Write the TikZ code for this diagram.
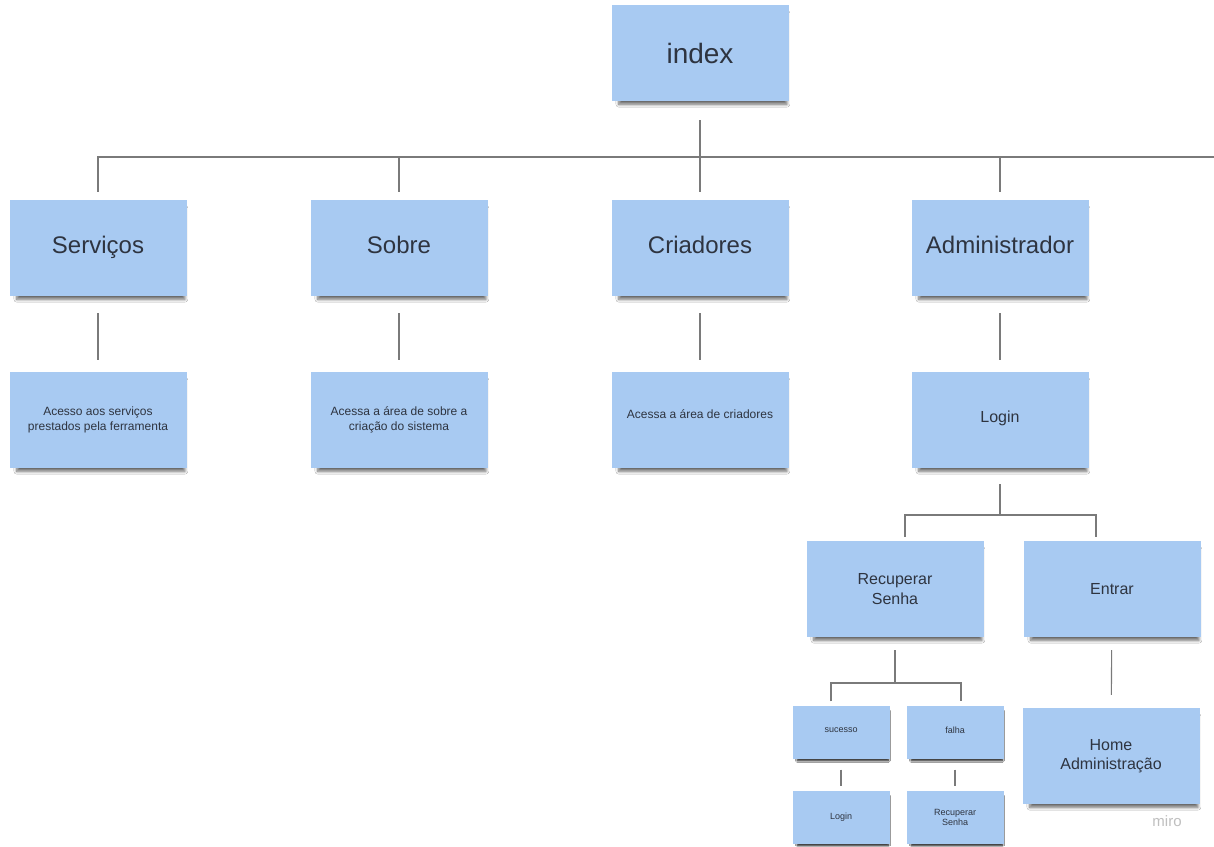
\documentclass[tikz,border=0pt]{standalone}
\usepackage{fontspec}
\setmainfont{Liberation Sans}
\usetikzlibrary{positioning,shadows,shadows.blur}

\definecolor{noteblue}{HTML}{A8CAF2}
\definecolor{notetext}{HTML}{2E3440}
\definecolor{linegray}{HTML}{7A7A7A}

\begin{document}
\begin{tikzpicture}[
    x=1pt, y=-1pt,
    note/.style={rectangle, fill=noteblue, text=notetext, align=center, inner sep=2pt,
      minimum width=177pt, minimum height=96pt,
      blur shadow={shadow xshift=3pt, shadow yshift=-6pt, shadow scale=0.95, shadow opacity=60, shadow blur steps=8, shadow blur radius=3pt}},
    % text sizes for the three kinds of notes
    bigtxt/.style={font=\fontsize{24}{28}\selectfont, text height=18pt, text depth=8pt},
    midtxt/.style={font=\fontsize{16}{20}\selectfont},
    lowtxt/.style={font=\fontsize{12}{15}\selectfont},
    small/.style={note, minimum width=97pt, minimum height=53pt, font=\fontsize{9}{10}\selectfont,
      blur shadow={shadow xshift=2pt, shadow yshift=-4pt, shadow scale=0.94, shadow opacity=60, shadow blur steps=6, shadow blur radius=2pt}},
    conn/.style={draw=linegray, line width=1.1pt}
  ]
    \fill[white] (0,0) rectangle (1214,846);
    \useasboundingbox (0,0) rectangle (1214,846);

    %--- Root
    \node[note, font=\fontsize{28}{32}\selectfont] (index) at (700,53) {index};

    %--- Row 1 (pages)
    \node[note, bigtxt] (srv)   at (98,248)   {Serviços};
    \node[note, bigtxt] (sobre) at (399,248)  {Sobre};
    \node[note, bigtxt] (criad) at (700,248)  {Criadores};
    \node[note, bigtxt] (admin) at (1000,248) {Administrador};

    %--- Row 2 (descriptions)
    \node[note, lowtxt] (srvD)   at (98,420)  {Acesso aos serviços\\prestados pela ferramenta};
    \node[note, lowtxt] (sobreD) at (399,420) {Acessa a área de sobre a\\criação do sistema};
    \node[note, lowtxt] (criadD) at (700,420) {Acessa a área de criadores\\[-4pt]};
    \node[note, midtxt] (login)  at (1000,420) {Login\\[-14pt]};

    %--- Login branch
    \node[note, midtxt] (rec)    at (895,589)  {Recuperar\\Senha};
    \node[note, midtxt] (entrar) at (1112,589) {Entrar};
    \node[note, midtxt, font=\fontsize{16}{19}\selectfont] (home) at (1111,756) {Home\\Administração};

    \node[small] (sucesso) at (841,732) {sucesso\\[-6pt]};
    \node[small] (falha)   at (955,732) {falha\\[-6pt]};
    \node[small] (loginB)  at (841,817) {Login};
    \node[small] (recB)    at (955,817) {Recuperar\\Senha};

    %--- Edges: root bus
    \coordinate (bus)  at (700,157);
    \coordinate (busL) at (97,157);
    \coordinate (busR) at (1214,157);
    \draw[conn] ([yshift=-19pt]index.south) -- (bus);
    \draw[conn] (busL) -- (busR);
    \foreach \n in {srv,sobre,criad,admin}
      \draw[conn] (\n.north |- bus) -- ([yshift=8pt]\n.north);

    %--- Edges: page -> description
    \foreach \a/\b in {srv/srvD, sobre/sobreD, criad/criadD, admin/login}
      \draw[conn, shorten <=17pt, shorten >=12pt] (\a) -- (\b);

    %--- Edges: login split
    \coordinate (j1) at (1000,515);
    \draw[conn] ([yshift=-16pt]login.south) -- (j1);
    \draw[conn] ([xshift=10pt,yshift=4pt]rec.north) |- (j1) -| ([xshift=-16pt,yshift=4pt]entrar.north);

    %--- Edges: recuperar split
    \coordinate (j2) at (895,683);
    \draw[conn] ([yshift=-13pt]rec.south) -- (j2);
    \draw[conn] ([xshift=-10pt,yshift=4pt]sucesso.north) |- (j2) -| ([xshift=6pt,yshift=4pt]falha.north);

    \draw[conn, shorten <=11pt, shorten >=4pt] (sucesso) -- (loginB);
    \draw[conn, shorten <=11pt, shorten >=4pt] (falha) -- (recB);
    \draw[conn, shorten <=13pt, shorten >=13pt] (entrar) -- (home);

    %--- watermark
    \node[text=black!25, font=\fontsize{15}{16}\selectfont] (miro) at (1167,821) {miro};
\end{tikzpicture}
\end{document}
